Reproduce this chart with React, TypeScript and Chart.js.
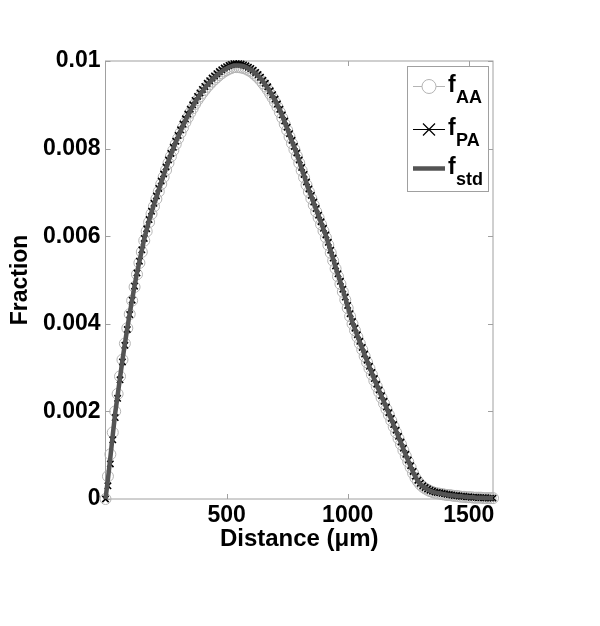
import React, { useEffect, useRef } from "react";
import { Chart, registerables } from "chart.js";

Chart.register(...registerables);

const distance = [
  0, 10, 20, 30, 40, 50, 60, 70, 80, 90, 100, 110, 120, 130, 140, 150, 160, 170, 180, 190,
  200, 210, 220, 230, 240, 250, 260, 270, 280, 290, 300, 310, 320, 330, 340, 350, 360, 370, 380, 390,
  400, 410, 420, 430, 440, 450, 460, 470, 480, 490, 500, 510, 520, 530, 540, 550, 560, 570, 580, 590,
  600, 610, 620, 630, 640, 650, 660, 670, 680, 690, 700, 710, 720, 730, 740, 750, 760, 770, 780, 790,
  800, 810, 820, 830, 840, 850, 860, 870, 880, 890, 900, 910, 920, 930, 940, 950, 960, 970, 980, 990,
  1000, 1010, 1020, 1030, 1040, 1050, 1060, 1070, 1080, 1090, 1100, 1110, 1120, 1130, 1140, 1150, 1160, 1170, 1180, 1190,
  1200, 1210, 1220, 1230, 1240, 1250, 1260, 1270, 1280, 1290, 1300, 1310, 1320, 1330, 1340, 1350, 1360, 1370, 1380, 1390,
  1400, 1410, 1420, 1430, 1440, 1450, 1460, 1470, 1480, 1490, 1500, 1510, 1520, 1530, 1540, 1550, 1560, 1570, 1580, 1590,
  1600,
];

const fAA = [
  0.0, 0.00052, 0.00102, 0.00152, 0.002, 0.0024, 0.0028, 0.00318, 0.00355, 0.0039,
  0.00422, 0.00453, 0.00484, 0.00513, 0.00539, 0.00564, 0.0059, 0.00611, 0.00632, 0.00651,
  0.00668, 0.00685, 0.00702, 0.00719, 0.00735, 0.00751, 0.00767, 0.00782, 0.00796, 0.0081,
  0.00823, 0.00836, 0.00848, 0.0086, 0.00871, 0.00882, 0.00892, 0.00902, 0.00911, 0.00919,
  0.00927, 0.00934, 0.00941, 0.00947, 0.00953, 0.00958, 0.00963, 0.00968, 0.00972, 0.00976,
  0.00979, 0.00982, 0.00984, 0.00986, 0.00986, 0.00986, 0.00985, 0.00984, 0.00982, 0.00979,
  0.00976, 0.00972, 0.00967, 0.00962, 0.00956, 0.00949, 0.00942, 0.00934, 0.00925, 0.00916,
  0.00906, 0.00895, 0.00883, 0.0087, 0.00856, 0.00842, 0.00827, 0.00812, 0.00798, 0.00783,
  0.00767, 0.0075, 0.00734, 0.00717, 0.00701, 0.00686, 0.00671, 0.00656, 0.00642, 0.00627,
  0.00612, 0.00597, 0.0058, 0.00562, 0.00544, 0.00526, 0.00508, 0.00491, 0.00473, 0.00455,
  0.00436, 0.00417, 0.004, 0.00385, 0.0037, 0.00355, 0.00341, 0.00326, 0.00312, 0.00298,
  0.00284, 0.0027, 0.00257, 0.00244, 0.00231, 0.00218, 0.00205, 0.00192, 0.00179, 0.00165,
  0.00152, 0.00138, 0.00125, 0.00111, 0.00098, 0.00085, 0.00072, 0.00059, 0.00048, 0.0004,
  0.00033, 0.00028, 0.00024, 0.00021, 0.00018, 0.00016, 0.00014, 0.00013, 0.00012, 0.00011,
  0.0001, 0.00009, 0.00009, 0.00008, 0.00007, 0.00007, 0.00006, 0.00005, 0.00005, 0.00004,
  0.00004, 0.00004, 0.00003, 0.00003, 0.00003, 0.00003, 0.00002, 0.00002, 0.00002, 0.00002,
  0.00002,
];

const fPA = [
  0.0, 0.0003, 0.0008, 0.00135, 0.00186, 0.0023, 0.00272, 0.00313, 0.00351, 0.00387,
  0.00421, 0.00454, 0.00486, 0.00516, 0.00543, 0.00569, 0.00595, 0.00617, 0.00638, 0.00657,
  0.00675, 0.00692, 0.00709, 0.00726, 0.00742, 0.00758, 0.00774, 0.00789, 0.00803, 0.00817,
  0.0083, 0.00843, 0.00856, 0.00868, 0.00879, 0.0089, 0.009, 0.0091, 0.00919, 0.00927,
  0.00935, 0.00942, 0.00949, 0.00955, 0.00961, 0.00966, 0.00971, 0.00976, 0.0098, 0.00984,
  0.00987, 0.0099, 0.00992, 0.00994, 0.00994, 0.00994, 0.00993, 0.00991, 0.00989, 0.00986,
  0.00983, 0.00979, 0.00974, 0.00969, 0.00963, 0.00956, 0.00949, 0.00941, 0.00932, 0.00923,
  0.00913, 0.00902, 0.0089, 0.00877, 0.00863, 0.00849, 0.00834, 0.00819, 0.00805, 0.0079,
  0.00774, 0.00757, 0.00741, 0.00724, 0.00708, 0.00693, 0.00678, 0.00663, 0.00648, 0.00633,
  0.00618, 0.00603, 0.00586, 0.00568, 0.0055, 0.00532, 0.00514, 0.00497, 0.00479, 0.00461,
  0.00442, 0.00423, 0.00405, 0.0039, 0.00375, 0.0036, 0.00346, 0.00331, 0.00317, 0.00303,
  0.00289, 0.00275, 0.00262, 0.00249, 0.00236, 0.00223, 0.0021, 0.00197, 0.00184, 0.0017,
  0.00157, 0.00143, 0.0013, 0.00116, 0.00102, 0.00089, 0.00076, 0.00063, 0.00052, 0.00043,
  0.00036, 0.0003, 0.00026, 0.00023, 0.0002, 0.00018, 0.00016, 0.00015, 0.00014, 0.00013,
  0.00012, 0.00011, 0.0001, 0.00009, 0.00008, 0.00008, 0.00007, 0.00006, 0.00006, 0.00005,
  0.00005, 0.00004, 0.00004, 0.00004, 0.00003, 0.00003, 0.00003, 0.00003, 0.00002, 0.00002,
  0.00002,
];

const fStd = [
  0.0, 0.00045, 0.00095, 0.00146, 0.00196, 0.00236, 0.00277, 0.00317, 0.00354, 0.0039,
  0.00423, 0.00455, 0.00487, 0.00516, 0.00542, 0.00568, 0.00594, 0.00615, 0.00636, 0.00655,
  0.00672, 0.00689, 0.00706, 0.00723, 0.00739, 0.00755, 0.00771, 0.00786, 0.008, 0.00814,
  0.00827, 0.0084, 0.00852, 0.00864, 0.00875, 0.00886, 0.00896, 0.00906, 0.00915, 0.00923,
  0.00931, 0.00938, 0.00945, 0.00951, 0.00957, 0.00962, 0.00967, 0.00972, 0.00976, 0.0098,
  0.00983, 0.00986, 0.00988, 0.0099, 0.0099, 0.0099, 0.00989, 0.00988, 0.00986, 0.00983,
  0.0098, 0.00976, 0.00971, 0.00966, 0.0096, 0.00953, 0.00946, 0.00938, 0.00929, 0.0092,
  0.0091, 0.00899, 0.00887, 0.00874, 0.0086, 0.00846, 0.00831, 0.00816, 0.00802, 0.00787,
  0.00771, 0.00754, 0.00738, 0.00721, 0.00705, 0.0069, 0.00675, 0.0066, 0.00646, 0.00631,
  0.00616, 0.00601, 0.00584, 0.00566, 0.00548, 0.0053, 0.00512, 0.00495, 0.00477, 0.00459,
  0.0044, 0.00421, 0.00403, 0.00388, 0.00373, 0.00358, 0.00344, 0.00329, 0.00315, 0.00301,
  0.00287, 0.00273, 0.0026, 0.00247, 0.00234, 0.00221, 0.00208, 0.00195, 0.00182, 0.00168,
  0.00155, 0.00141, 0.00128, 0.00114, 0.001, 0.00087, 0.00074, 0.00061, 0.0005, 0.00041,
  0.00034, 0.00029, 0.00025, 0.00022, 0.00019, 0.00017, 0.00015, 0.00014, 0.00013, 0.00012,
  0.00011, 0.0001, 0.00009, 0.00008, 0.00008, 0.00007, 0.00006, 0.00006, 0.00005, 0.00005,
  0.00004, 0.00004, 0.00004, 0.00003, 0.00003, 0.00003, 0.00003, 0.00002, 0.00002, 0.00002,
  0.00002,
];

const xTicks = [500, 1000, 1500];
const xTickLabels = ["500", "1000", "1500"];
const yTicks = [0, 0.002, 0.004, 0.006, 0.008, 0.01];
const yTickLabels = ["0", "0.002", "0.004", "0.006", "0.008", "0.01"];
const seriesSubscripts = ["AA", "PA", "std"];
const xTitle = "Distance (\u03bcm)";
const yTitle = "Fraction";

const FONT = "'Liberation Sans', Arial, Helvetica, sans-serif";
const FRAME = "#a0a0a0";
const AA_COLOR = "#b4b4b4";
const PA_COLOR = "#000000";
const STD_COLOR = "#545454";

const framePlugin = {
  id: "matlabFrame",
  beforeDatasetsDraw(chart: any) {
    const { ctx, chartArea: a, scales } = chart;
    ctx.save();
    ctx.strokeStyle = FRAME;
    ctx.lineWidth = 1;
    ctx.strokeRect(a.left, a.top, a.right - a.left, a.bottom - a.top);
    ctx.beginPath();
    for (const v of xTicks) {
      const px = Math.round(scales.x.getPixelForValue(v)) + 0.5;
      ctx.moveTo(px, a.bottom);
      ctx.lineTo(px, a.bottom - 5);
      ctx.moveTo(px, a.top);
      ctx.lineTo(px, a.top + 5);
    }
    for (const v of yTicks) {
      const py = Math.round(scales.y.getPixelForValue(v)) + 0.5;
      ctx.moveTo(a.left, py);
      ctx.lineTo(a.left + 5, py);
      ctx.moveTo(a.right, py);
      ctx.lineTo(a.right - 5, py);
    }
    ctx.stroke();
    ctx.restore();
  },
};

const legendPlugin = {
  id: "matlabLegend",
  afterDraw(chart: any) {
    const ctx = chart.ctx;
    ctx.save();
    const bx = 407.5, by = 66.5, bw = 81, bh = 125;
    ctx.fillStyle = "#ffffff";
    ctx.fillRect(bx, by, bw, bh);
    ctx.strokeStyle = FRAME;
    ctx.lineWidth = 1;
    ctx.strokeRect(bx, by, bw, bh);
    const rows = [86.5, 129.5, 168.5];
    const x0 = 413, x1 = 445, xm = 429;
    // fAA
    ctx.strokeStyle = AA_COLOR;
    ctx.lineWidth = 1;
    ctx.beginPath();
    ctx.moveTo(x0, rows[0]);
    ctx.lineTo(xm - 7, rows[0]);
    ctx.moveTo(xm + 7, rows[0]);
    ctx.lineTo(x1, rows[0]);
    ctx.stroke();
    ctx.beginPath();
    ctx.arc(xm, rows[0], 7, 0, Math.PI * 2);
    ctx.stroke();
    // fPA
    ctx.strokeStyle = PA_COLOR;
    ctx.lineWidth = 1.2;
    ctx.beginPath();
    ctx.moveTo(x0, rows[1]);
    ctx.lineTo(x1, rows[1]);
    ctx.moveTo(xm - 6, rows[1] - 6);
    ctx.lineTo(xm + 6, rows[1] + 6);
    ctx.moveTo(xm - 6, rows[1] + 6);
    ctx.lineTo(xm + 6, rows[1] - 6);
    ctx.stroke();
    // fstd
    ctx.strokeStyle = STD_COLOR;
    ctx.lineWidth = 4.5;
    ctx.beginPath();
    ctx.moveTo(x0, rows[2]);
    ctx.lineTo(x1, rows[2]);
    ctx.stroke();
    // labels
    ctx.fillStyle = "#000";
    ctx.textBaseline = "alphabetic";
    ctx.textAlign = "left";
    rows.forEach((ry, i) => {
      ctx.font = `bold 23px ${FONT}`;
      ctx.fillText("f", 448, ry + 5);
      ctx.font = `bold 18px ${FONT}`;
      ctx.fillText(seriesSubscripts[i], 456, ry + 16);
    });
    ctx.restore();
  },
};

export default function App() {
  const ref = useRef<HTMLCanvasElement | null>(null);
  useEffect(() => {
    document.body.style.margin = "0";
    const canvas = ref.current;
    if (!canvas) return;
    const pts = (arr: number[]) => distance.map((x, i) => ({ x, y: arr[i] }));
    const chart = new Chart(canvas, {
      type: "line",
      data: {
        datasets: [
          {
            label: "fstd",
            data: pts(fStd),
            borderColor: STD_COLOR,
            borderWidth: 4.5,
            pointRadius: 0,
            fill: false,
            order: 0,
            clip: false,
          },
          {
            label: "fPA",
            data: pts(fPA),
            borderColor: PA_COLOR,
            borderWidth: 1,
            pointStyle: "crossRot",
            pointRadius: 4.5,
            pointBorderColor: PA_COLOR,
            pointBorderWidth: 1.6,
            fill: false,
            order: 1,
            clip: false,
          },
          {
            label: "fAA",
            data: pts(fAA),
            borderColor: AA_COLOR,
            borderWidth: 1,
            pointStyle: "circle",
            pointRadius: 5.5,
            pointBorderColor: AA_COLOR,
            pointBackgroundColor: "rgba(255,255,255,0)",
            pointBorderWidth: 1,
            fill: false,
            order: 2,
            clip: false,
          },
        ],
      } as any,
      options: {
        responsive: false,
        animation: false,
        devicePixelRatio: 1,
        layout: { padding: { left: 0, right: 107, top: 61, bottom: 60 } },
        plugins: {
          legend: { display: false },
          tooltip: { enabled: false },
        },
        scales: {
          x: {
            type: "linear",
            min: 0,
            max: 1600,
            grid: { display: false, drawTicks: false },
            border: { display: false },
            afterBuildTicks: (scale: any) => {
              scale.ticks = xTicks.map((v) => ({ value: v }));
            },
            afterFit: (scale: any) => {
              scale.height = 67;
            },
            ticks: {
              autoSkip: false,
              maxRotation: 0,
              padding: 3,
              color: "#000",
              font: { family: FONT, size: 23, weight: "bold" },
              callback: (v: any) => xTickLabels[xTicks.indexOf(Number(v))],
            },
            title: {
              display: true,
              text: xTitle,
              color: "#000",
              font: { family: FONT, size: 24, weight: "bold" },
              padding: { top: 0, bottom: 12 },
            },
          },
          y: {
            type: "linear",
            min: 0,
            max: 0.01,
            grid: { display: false, drawTicks: false },
            border: { display: false },
            afterBuildTicks: (scale: any) => {
              scale.ticks = yTicks.map((v) => ({ value: v }));
            },
            afterFit: (scale: any) => {
              scale.width = 105.5;
            },
            ticks: {
              autoSkip: false,
              padding: 5,
              color: "#000",
              font: { family: FONT, size: 23, weight: "bold" },
              callback: (v: any) => {
                const idx = yTicks.findIndex((t) => Math.abs(t - Number(v)) < 1e-9);
                return idx >= 0 ? yTickLabels[idx] : "";
              },
            },
            title: {
              display: true,
              text: yTitle,
              color: "#000",
              font: { family: FONT, size: 23, weight: "bold" },
              padding: { top: 7, bottom: 0 },
            },
          },
        },
      } as any,
      plugins: [framePlugin, legendPlugin],
    });
    return () => chart.destroy();
  }, []);
  return (
    <div style={{ width: 600, height: 626, background: "#fff" }}>
      <canvas ref={ref} width={600} height={626} style={{ display: "block" }} />
    </div>
  );
}
